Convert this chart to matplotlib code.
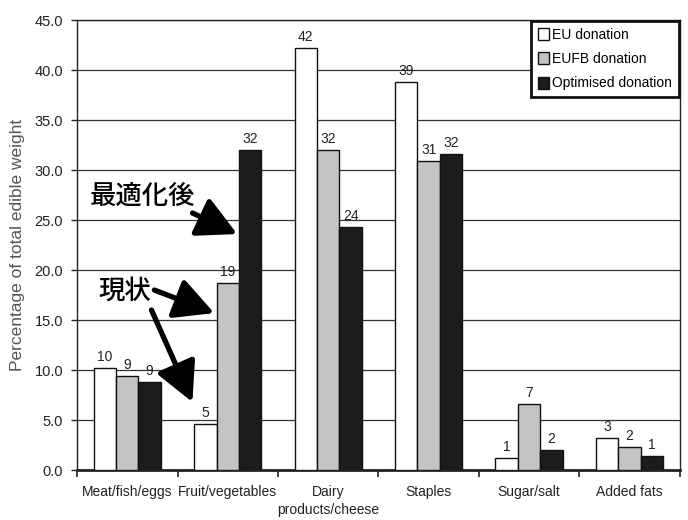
import matplotlib
matplotlib.use("Agg")
import matplotlib.pyplot as plt
import numpy as np

categories = ["Meat/fish/eggs", "Fruit/vegetables", "Dairy\nproducts/cheese",
              "Staples", "Sugar/salt", "Added fats"]
eu_donation = [10.2, 4.6, 42.2, 38.8, 1.2, 3.2]
eufb_donation = [9.4, 18.7, 32.0, 30.9, 6.6, 2.3]
optimised_donation = [8.8, 32.0, 24.3, 31.6, 2.0, 1.4]
series_names = ["EU donation", "EUFB donation", "Optimised donation"]
yticks = [0, 5, 10, 15, 20, 25, 30, 35, 40, 45]

plt.rcParams['font.family'] = ['Liberation Sans', 'DejaVu Sans']

fig = plt.figure(figsize=(6.88, 5.2), dpi=100)
ax = fig.add_axes([0.112, 0.096, 0.876, 0.8655])

x = np.arange(len(categories))
w = 0.223
colors = ["white", "#c4c4c4", "#1c1c1c"]
all_series = [eu_donation, eufb_donation, optimised_donation]
for i, (vals, col, name) in enumerate(zip(all_series, colors, series_names)):
    pos = x + (i - 1) * w
    ax.bar(pos, vals, width=w, color=col, edgecolor="#111111", linewidth=1.0,
           label=name, zorder=3)
    for px, v in zip(pos, vals):
        ax.annotate(f"{round(v):d}", (px, v), xytext=(0, 3), textcoords="offset points",
                    ha="center", va="bottom", fontsize=10, color="#222222", zorder=4)

ax.set_xlim(-0.5, len(categories) - 0.5)
ax.set_ylim(0, 45)
ax.set_yticks(yticks)
ax.set_yticklabels([f"{t:.1f}" for t in yticks], fontsize=10.5, color="#222222")
ax.yaxis.grid(True, color="#333333", linewidth=0.9, zorder=0)
ax.set_axisbelow(True)

ax.set_xticks(x)
ax.set_xticklabels(categories, fontsize=10, color="#222222", linespacing=1.35)
ax.tick_params(axis="x", which="major", length=0, pad=11)
ax.set_xticks(np.arange(-0.5, len(categories)), minor=True)
ax.tick_params(axis="x", which="minor", length=5, width=1.2, color="#222222", direction="out")
ax.tick_params(axis="y", length=4, width=1, color="#222222", pad=6)

for s in ax.spines.values():
    s.set_color("#222222")
    s.set_linewidth(1.0)
ax.spines["bottom"].set_linewidth(2.0)

ax.set_ylabel("Percentage of total edible weight", fontsize=12.5, color="#555555", labelpad=7)

leg = ax.legend(loc="upper right", borderaxespad=0.05, fancybox=False, framealpha=1,
                edgecolor="#111111", fontsize=10, handlelength=0.85, handleheight=0.95,
                handletextpad=0.2, labelspacing=0.75, borderpad=0.5)
leg.get_frame().set_linewidth(2.0)

jp = ['Noto Sans CJK JP', 'DejaVu Sans']
ax.text(0.147, 27.4, "最適化後", fontsize=19, family=jp, weight="medium",
        ha="center", va="center", zorder=5)
ax.text(-0.03, 17.9, "現状", fontsize=19, family=jp, weight="medium",
        ha="center", va="center", zorder=5)
arrow_kw = dict(arrowstyle="-|>,head_length=2.4,head_width=1.25", color="black", lw=3.8,
                shrinkA=0, shrinkB=0)
ax.annotate("", xy=(1.094, 23.6), xytext=(0.65, 25.7), arrowprops=arrow_kw, zorder=5)
ax.annotate("", xy=(0.866, 15.7), xytext=(0.27, 18.0), arrowprops=arrow_kw, zorder=5)
ax.annotate("", xy=(0.648, 6.8), xytext=(0.241, 16.0), arrowprops=arrow_kw, zorder=5)

fig.savefig("out.png", dpi=100)
